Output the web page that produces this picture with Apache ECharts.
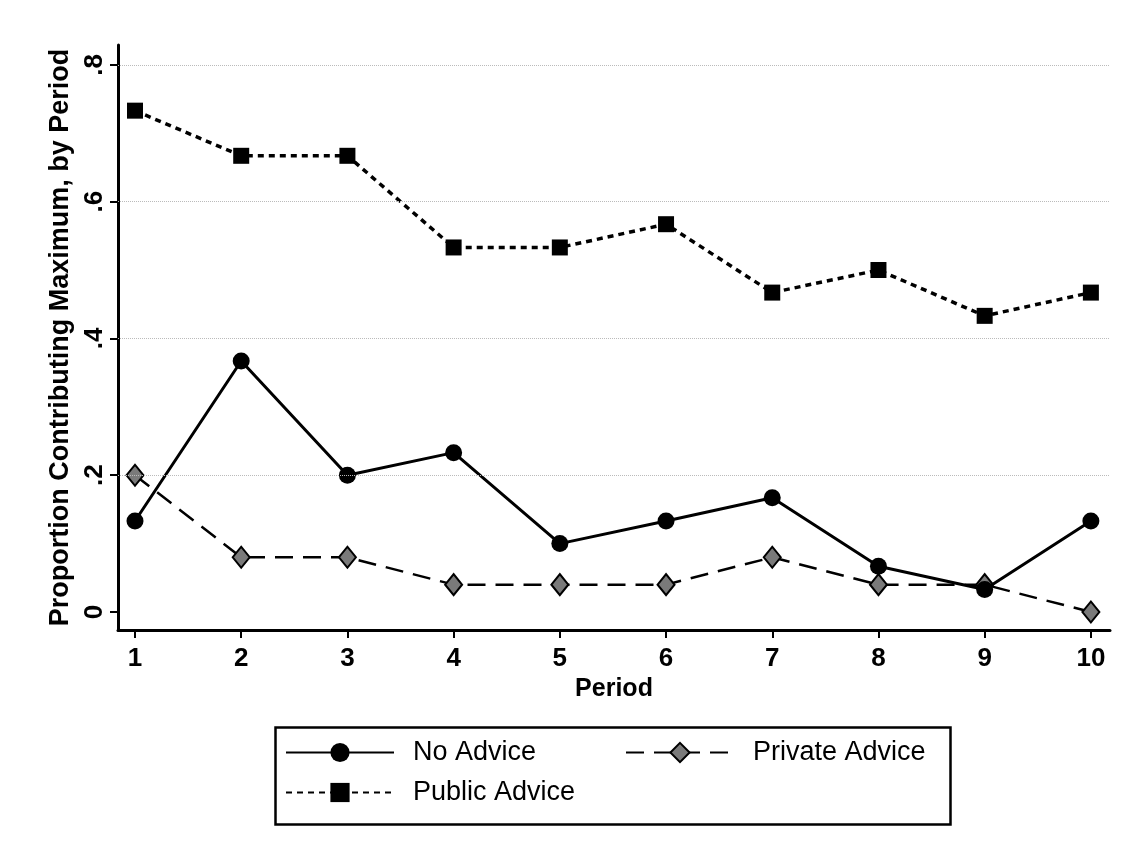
<!DOCTYPE html>
<html>
<head>
<meta charset="utf-8">
<script src="https://cdn.jsdelivr.net/npm/echarts@6/dist/echarts.min.js"></script>
<style>
  html, body { margin: 0; padding: 0; background: #fff; }
  #chart { width: 1128px; height: 860px; }
</style>
</head>
<body>
<div id="chart"></div>
<script>
// periods on the x axis
var periods = [1, 2, 3, 4, 5, 6, 7, 8, 9, 10]
// proportion contributing maximum
var noAdvice = [0.133, 0.367, 0.2, 0.233, 0.1, 0.133, 0.167, 0.067, 0.033, 0.133]
var privateAdvice = [0.2, 0.08, 0.08, 0.04, 0.04, 0.04, 0.08, 0.04, 0.04, 0]
var publicAdvice = [0.733, 0.667, 0.667, 0.533, 0.533, 0.567, 0.467, 0.5, 0.433, 0.467]
// y ticks
var yTicks = [0, 0.2, 0.4, 0.6, 0.8]
var yTickLabels = ['0', '.2', '.4', '.6', '.8']

var FONT = "'Liberation Sans', Arial, Helvetica, sans-serif"

function pairs(vals) {
  return periods.map(function (p, i) { return [p, vals[i]] })
}

var myChart = echarts.init(document.getElementById('chart'))

var legendBase = {
  orient: 'horizontal',
  padding: 0,
  itemWidth: 108,
  itemHeight: 24,
  selectedMode: false,
  textStyle: {
    fontFamily: FONT,
    fontSize: 27,
    color: '#000',
    padding: [0, 0, 0, 14]
  }
}

var option = {
  backgroundColor: '#fff',
  animation: false,
  grid: {
    left: 118,
    right: 18,
    top: 45,
    bottom: 230,
    containLabel: false
  },
  legend: [
    Object.assign({}, legendBase, { data: ['No Advice'], left: 285, top: 739 }),
    Object.assign({}, legendBase, { data: ['Private Advice'], left: 625, top: 739 }),
    Object.assign({}, legendBase, { data: ['Public Advice'], left: 285, top: 779 })
  ],
  graphic: [
    {
      type: 'rect',
      left: 273,
      top: 725,
      shape: { width: 675, height: 97 },
      style: { fill: 'none', stroke: '#000', lineWidth: 2.5 },
      silent: true
    }
  ],
  xAxis: {
    type: 'value',
    min: 0.84,
    max: 10.18,
    name: 'Period',
    nameLocation: 'middle',
    nameGap: 46,
    nameTextStyle: {
      fontFamily: FONT,
      fontSize: 25,
      fontWeight: 'bold',
      color: '#000'
    },
    axisLine: { show: true, onZero: false, lineStyle: { color: '#000', width: 3 } },
    axisTick: { show: true, length: 8, customValues: periods, lineStyle: { color: '#000', width: 2 } },
    axisLabel: {
      customValues: periods,
      margin: 16,
      fontFamily: FONT,
      fontSize: 26,
      fontWeight: 'bold',
      color: '#000'
    },
    splitLine: { show: false }
  },
  yAxis: {
    type: 'value',
    min: -0.0263,
    max: 0.829,
    name: 'Proportion Contributing Maximum, by Period',
    nameLocation: 'middle',
    nameGap: 44,
    nameTextStyle: {
      fontFamily: FONT,
      fontSize: 27,
      fontWeight: 'bold',
      color: '#000'
    },
    axisLine: { show: true, onZero: false, lineStyle: { color: '#000', width: 3 } },
    axisTick: { show: true, length: 8, customValues: yTicks, lineStyle: { color: '#000', width: 2 } },
    axisLabel: {
      customValues: yTicks,
      rotate: 90,
      margin: 10,
      fontFamily: FONT,
      fontSize: 26,
      fontWeight: 'bold',
      color: '#000',
      formatter: function (v) {
        var i = yTicks.indexOf(Math.round(v * 10) / 10)
        return i >= 0 ? yTickLabels[i] : ''
      }
    },
    splitLine: { show: false }
  },
  series: [
    {
      name: 'No Advice',
      type: 'line',
      data: pairs(noAdvice),
      symbol: 'circle',
      symbolSize: 17,
      lineStyle: { color: '#000', width: 3, type: 'solid' },
      itemStyle: { color: '#000' },
      markLine: {
        silent: true,
        symbol: 'none',
        label: { show: false },
        lineStyle: { color: '#bbb', type: 'dotted', width: 1 },
        data: yTicks.slice(1).map(function (v) { return { yAxis: v } })
      },
      z: 3
    },
    {
      name: 'Private Advice',
      type: 'line',
      data: pairs(privateAdvice),
      symbol: 'diamond',
      symbolSize: [17, 21],
      lineStyle: { color: '#000', width: 2.5, type: [18, 10] },
      itemStyle: { color: '#7a7a7a', borderColor: '#000', borderWidth: 2 },
      z: 2
    },
    {
      name: 'Public Advice',
      type: 'line',
      data: pairs(publicAdvice),
      symbol: 'rect',
      symbolSize: 16,
      lineStyle: { color: '#000', width: 3.5, type: [6, 5] },
      itemStyle: { color: '#000' },
      z: 2
    }
  ]
}

myChart.setOption(option)
</script>
</body>
</html>
